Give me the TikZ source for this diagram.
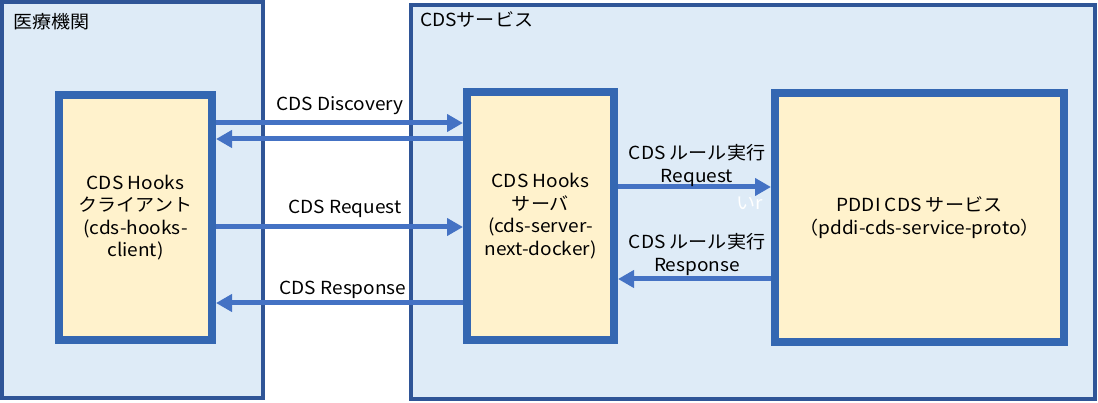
\documentclass[tikz,border=0pt]{standalone}
\usepackage{fontspec}
\setmainfont[FakeStretch=1.06]{Noto Sans CJK JP}
\usetikzlibrary{arrows.meta}
\definecolor{outerfill}{HTML}{DEEBF7}
\definecolor{outerline}{HTML}{2F5597}
\definecolor{innerfill}{HTML}{FFF2CC}
\definecolor{innerline}{HTML}{3467B2}
\definecolor{arrowcol}{HTML}{4472C4}
\begin{document}
\begin{tikzpicture}[x=1pt,y=-1pt,
  outerbox/.style={draw=outerline,fill=outerfill,line width=4pt},
  compbox/.style={draw=innerline,fill=innerfill,line width=8pt,inner sep=0pt,
    align=center,font=\fontsize{18}{22.5}\selectfont},
  flow/.style={draw=arrowcol,line width=5pt,-{Triangle[length=16pt,width=17pt]}},
  lbl/.style={font=\fontsize{18}{23}\selectfont,align=center,inner sep=0pt},
  ttl/.style={font=\fontsize{18}{21}\selectfont,anchor=west,inner sep=0pt}]
\useasboundingbox (0,0) rectangle (1098,403);
% outer containers
\draw[outerbox] (2,2) rectangle (263,398);
\draw[outerbox] (411,5) rectangle (1095,399);
\node[ttl] (t1) at (13,22) {医療機関};
\node[ttl] (t2) at (420,20) {CDSサービス};
% components
\node[compbox,minimum width=153pt,minimum height=245pt] (client) at (135.5,217.5)
  {CDS Hooks\\クライアント\\(cds-hooks-\\client)};
\node[compbox,minimum width=147pt,minimum height=248pt] (server) at (540.5,216)
  {CDS Hooks\\サーバ\\(cds-server-\\next-docker)};
\node[compbox,minimum width=289pt,minimum height=249pt] (pddi) at (919.5,217.5)
  {PDDI CDS サービス\\（pddi-cds-service-proto）};
% connectors
\draw[flow] (client.east |- {0,123}) -- (server.west |- {0,123});
\draw[flow] (server.west |- {0,139}) -- (client.east |- {0,139});
\draw[flow] (client.east |- {0,227}) -- (server.west |- {0,227});
\draw[flow] (server.west |- {0,303}) -- (client.east |- {0,303});
\draw[flow] (server.east |- {0,187}) -- (pddi.west |- {0,187});
\draw[flow] (pddi.west |- {0,279}) -- (server.east |- {0,279});
% labels
\node[lbl] (l1) at (340,106) {CDS Discovery};
\node[lbl] (l2) at (345,209) {CDS Request};
\node[lbl] (l3) at (343,290) {CDS Response};
\node[lbl] (l4) at (697,165) {CDS ルール実行\\Request};
\node[lbl] (l5) at (697,254) {CDS ルール実行\\Response};
\node[lbl,text=white] (l6) at (750,203) {いr};
\end{tikzpicture}
\end{document}
